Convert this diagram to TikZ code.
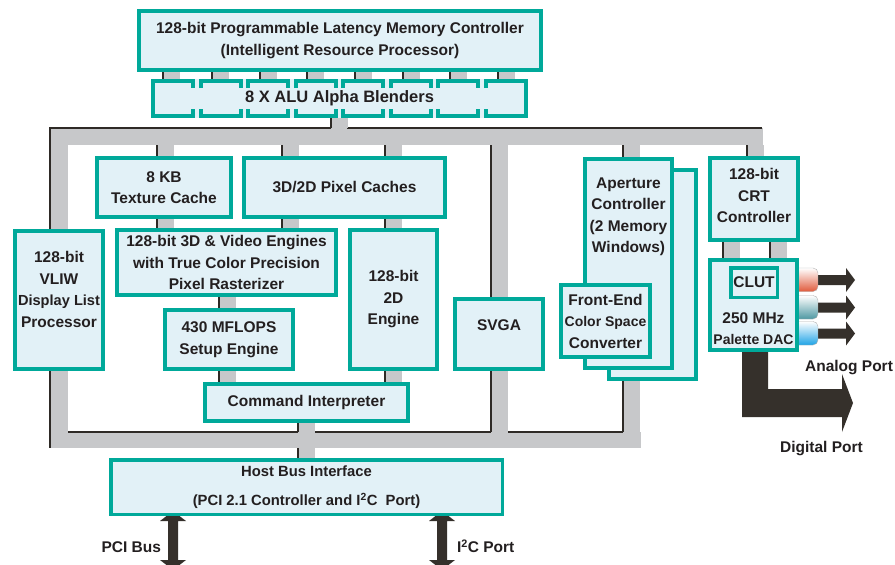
\documentclass[tikz,border=0pt]{standalone}
\usepackage{fontspec}
\setmainfont{Liberation Sans}
\usetikzlibrary{calc}
\definecolor{tealb}{HTML}{00A99A}
\definecolor{boxfill}{HTML}{E2F1F7}
\definecolor{busgray}{HTML}{C7C8CA}
\definecolor{busdark}{HTML}{2E2A26}
\definecolor{txt}{HTML}{231F20}
\definecolor{arrowdark}{HTML}{35302B}
\definecolor{cred}{HTML}{E05A3C}
\definecolor{cteal}{HTML}{4E98A2}
\definecolor{cblue}{HTML}{1FA3E6}
\pgfdeclarelayer{backdrop}
\pgfdeclarelayer{bg}
\pgfsetlayers{backdrop,bg,main}
\newcommand\myfs[2]{\fontsize{#1}{#2}\selectfont}
\newcommand\mybusv[3]{%
  \coordinate (bx) at (#1,0);
  \begin{pgfonlayer}{bg}
    \fill[busgray] (bx |- #2) rectangle ([xshift=17pt]bx |- #3);
    \draw[busedge] (bx |- #2) -- (bx |- #3);
  \end{pgfonlayer}}
\tikzset{
  box/.style={draw=tealb, fill=boxfill, line width=4pt, inner sep=0pt, outer sep=0pt,
    align=center, text=txt, font=\bfseries\myfs{15.5}{21.5}},
  lbl/.style={inner sep=0pt, outer sep=0pt, align=center, text=txt,
    font=\bfseries\myfs{15.5}{21.5}},
  busedge/.style={draw=busdark, line width=1.3pt},
  seg/.style={draw=tealb, line width=4pt},
  darrow/.style={fill=arrowdark},
}
\begin{document}
\begin{tikzpicture}[x=1pt,y=-1pt]
\useasboundingbox (0,0) rectangle (895,565);
\begin{pgfonlayer}{backdrop}
  \fill[white] (0,0) rectangle (895,565);
\end{pgfonlayer}

% ---------- boxes ----------
\node[box, minimum width=402pt, minimum height=59pt] (mem) at (340,40.5)
  {128-bit Programmable Latency Memory Controller\\(Intelligent Resource Processor)};
\node[fill=boxfill, inner sep=0pt, outer sep=0pt, minimum width=377pt, minimum height=39pt,
  text=txt, font=\bfseries\myfs{16.5}{20}] (alu) at (339.5,98.5) {8 X ALU Alpha Blenders};
\foreach \s in {151,198.6,246.1,293.7,341.3,388.8,436.4,484} {
  \draw[seg] (\s+2,88) -- (\s+2,81) -- (\s+42,81) -- (\s+42,88);
  \draw[seg] (\s+2,109) -- (\s+2,116) -- (\s+42,116) -- (\s+42,109);
}
\draw[seg] (153,81) -- (153,116);
\draw[seg] (526,81) -- (526,116);

\node[box, minimum width=134pt, minimum height=59pt] (tex) at (164,187.5) {8 KB\\Texture Cache};
\node[box, minimum width=201pt, minimum height=59pt] (pix) at (344.5,187.5) {3D/2D Pixel Caches};
\node[box, minimum width=219pt, minimum height=65pt] (eng3d) at (226.5,262.5)
  {128-bit 3D \& Video Engines\\with True Color Precision\\Pixel Rasterizer};
\node[box, minimum width=87pt, minimum height=139pt] (eng2d) at (393.5,299.5) {128-bit\\2D\\Engine};
\node[box, minimum width=88pt, minimum height=138pt] (vliw) at (59,300) {};
\node[lbl, anchor=north] (vliwt) at (59,251.5)
  {128-bit\\VLIW\\{\myfs{14.6}{21.5}Display List}\\Processor};
\node[box, minimum width=128pt, minimum height=59pt] (setup) at (229,339.5) {430 MFLOPS\\Setup Engine};
\node[box, minimum width=203pt, minimum height=37pt] (cmd) at (306.5,402.5) {Command Interpreter};
\node[box, minimum width=88pt, minimum height=70pt] (svga) at (499,334) {};
\node[lbl] (svgat) at (499,325) {SVGA};

\node[box, minimum width=87pt, minimum height=209pt] (apback) at (652.5,274.5) {};
\node[box, minimum width=87pt, minimum height=209pt] (aper) at (628.5,263.5) {};
\node[lbl, anchor=north] (apert) at (628.5,177.5)
  {Aperture\\Controller\\(2 Memory\\Windows)};
\node[box, minimum width=89pt, minimum height=72pt] (front) at (605.5,321)
  {Front-End\\{\myfs{14}{21.5}Color Space}\\Converter};

\node[box, minimum width=88pt, minimum height=82pt] (crt) at (754,199) {};
\node[lbl, anchor=north] (crtt) at (754,168.5) {128-bit\\CRT\\Controller};
\node[box, minimum width=87pt, minimum height=90pt] (dac) at (753.5,305) {};
\node[box, line width=3.5pt, minimum width=46.5pt, minimum height=29.5pt] (clut) at (754,282.5) {CLUT};
\node[lbl, anchor=north] (dact) at (753.5,312.5) {250 MHz\\{\myfs{14}{19.5}Palette DAC}};

\node[box, line width=3.5pt, minimum width=391.5pt, minimum height=54.5pt,
  font=\bfseries\myfs{14.8}{29}] (host) at (306.5,487)
  {Host Bus Interface\\(PCI 2.1 Controller and I\textsuperscript{2}C\ \ Port)};

% ---------- labels ----------
\node[lbl, anchor=base east] (pcil) at (161,552.5) {PCI Bus};
\node[lbl, anchor=base west] (i2cl) at (457,552.5) {I\textsuperscript{2}C Port};
\node[lbl, anchor=base] (anal) at (849,371.5) {Analog Port};
\node[lbl, anchor=base] (digl) at (821.5,452.5) {Digital Port};

% ---------- bus ----------
\coordinate (tbtop) at (0,128);
\coordinate (tbbot) at (0,145);
\coordinate (bbtop) at (0,432);
\coordinate (bbbot) at (0,448);
\begin{pgfonlayer}{bg}
  \fill[busgray] (50,128) rectangle (763,145);
  \fill[busgray] (50,128) rectangle (68,448);
  \fill[busgray] (50,432) rectangle (641,448);
  \draw[busedge] (762,128) -- (347,128);
  \draw[busedge] (331,128) -- (50,128) -- (50,448);
  \draw[busedge] (68,432) -- (298,432);
  \draw[busedge] (315,432) -- (491,432);
  \draw[busedge] (508,432) -- (623,432);
\end{pgfonlayer}

\foreach \x in {163,212,260,307,355,403,450,498} {\mybusv{\x}{mem.south}{alu.north}}
\mybusv{331}{alu.south}{tbtop}
\mybusv{157}{tbbot}{tex.north}
\mybusv{282}{tbbot}{pix.north}
\mybusv{385}{tbbot}{pix.north}
\mybusv{491}{tbbot}{svga.north}
\mybusv{623}{tbbot}{aper.north}
\mybusv{747}{tbbot}{crt.north}
\mybusv{157}{tex.south}{eng3d.north}
\mybusv{282}{pix.south}{eng3d.north}
\mybusv{385}{pix.south}{eng2d.north}
\mybusv{219}{eng3d.south}{setup.north}
\mybusv{219}{setup.south}{cmd.north}
\mybusv{385}{eng2d.south}{cmd.north}
\mybusv{298}{cmd.south}{bbtop}
\mybusv{298}{bbbot}{host.north}
\mybusv{491}{svga.south}{bbtop}
\mybusv{623}{apback.south}{bbtop}
\mybusv{723}{crt.south}{dac.north}
\mybusv{770}{crt.south}{dac.north}

% ---------- output arrows ----------
\begin{pgfonlayer}{bg}
  \foreach \yc/\col in {280/cred, 307.5/cteal, 333.5/cblue} {
    \fill[darrow] (812,\yc-5) -- (846,\yc-5) -- (846,\yc-12) -- (855,\yc)
      -- (846,\yc+12) -- (846,\yc+5) -- (812,\yc+5) -- cycle;
    \shade[top color=white, bottom color=\col, draw=gray!60, line width=0.4pt,
      rounded corners=5pt] (790,\yc-12) rectangle (818,\yc+11.5);
  }
  \fill[darrow] (742,345) -- (768,345) -- (768,389) -- (842,389) -- (842,374)
    -- (853,403) -- (842,432) -- (842,417) -- (742,417) -- cycle;
  \foreach \xc in {173,442} {
    \fill[darrow] (\xc,511) -- (\xc+13,521) -- (\xc+5,521) -- (\xc+5,560)
      -- (\xc+13,560) -- (\xc,570) -- (\xc-13,560) -- (\xc-5,560)
      -- (\xc-5,521) -- (\xc-13,521) -- cycle;
  }
\end{pgfonlayer}
\end{tikzpicture}
\end{document}
